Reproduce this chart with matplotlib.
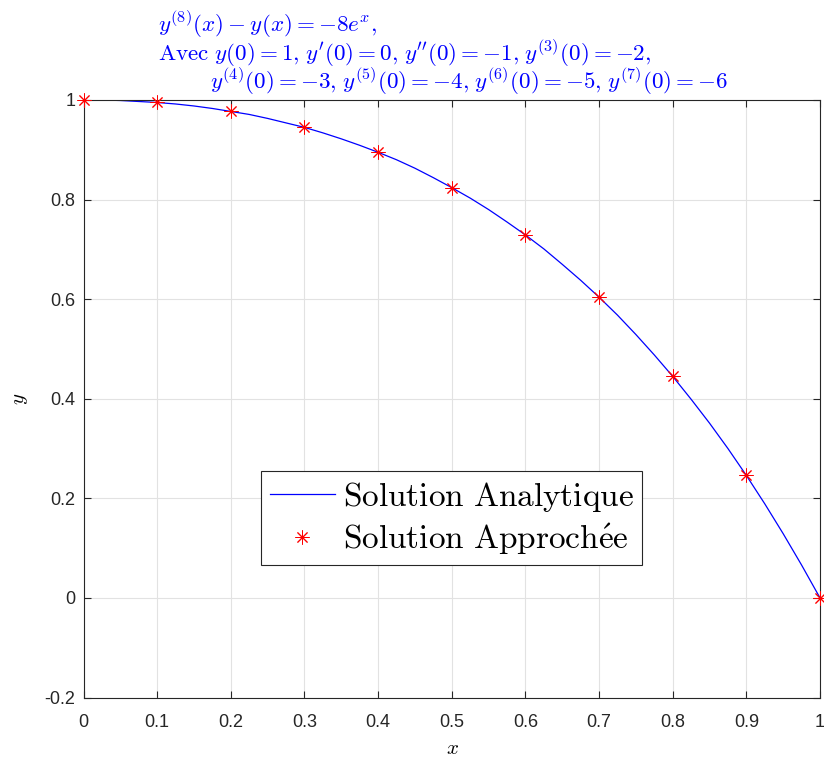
import matplotlib
matplotlib.use("Agg")
import matplotlib.pyplot as plt

plt.rcParams['mathtext.fontset'] = 'cm'
plt.rcParams['font.family'] = ['Liberation Sans', 'DejaVu Sans']

# valeurs
x_line = [0, 0.025, 0.05, 0.075, 0.1, 0.125, 0.15, 0.175, 0.2, 0.225, 0.25,
          0.275, 0.3, 0.325, 0.35, 0.375, 0.4, 0.425, 0.45, 0.475, 0.5,
          0.525, 0.55, 0.575, 0.6, 0.625, 0.65, 0.675, 0.7, 0.725, 0.75,
          0.775, 0.8, 0.825, 0.85, 0.875, 0.9, 0.925, 0.95, 0.975, 1.0]
y_line = [1.0, 1.0, 0.999, 0.997, 0.995, 0.992, 0.988, 0.983, 0.977, 0.971, 0.963,
          0.954, 0.945, 0.934, 0.922, 0.909, 0.895, 0.880, 0.863, 0.844, 0.824,
          0.803, 0.780, 0.755, 0.729, 0.701, 0.670, 0.638, 0.604, 0.568, 0.529,
          0.488, 0.445, 0.399, 0.351, 0.300, 0.246, 0.189, 0.129, 0.066, 0.0]

x_pts = [0, 0.1, 0.2, 0.3, 0.4, 0.5, 0.6, 0.7, 0.8, 0.9, 1.0]
y_pts = [1.0, 0.995, 0.977, 0.945, 0.895, 0.824, 0.729, 0.604, 0.445, 0.246, 0.0]

x_ticks = [0, 0.1, 0.2, 0.3, 0.4, 0.5, 0.6, 0.7, 0.8, 0.9, 1]
x_ticklabels = ['0', '0.1', '0.2', '0.3', '0.4', '0.5', '0.6', '0.7', '0.8', '0.9', '1']
y_ticks = [-0.2, 0, 0.2, 0.4, 0.6, 0.8, 1]
y_ticklabels = ['-0.2', '0', '0.2', '0.4', '0.6', '0.8', '1']

title_lines = [
    r'$y^{(8)}(x)-y(x)=-8e^{x},$',
    r'$\mathrm{Avec}\ y(0)=1,\hspace{0.12}y^{\prime}(0)=0,\hspace{0.12}y^{\prime\prime}(0)=-1,'
    r'\hspace{0.12}y^{(3)}(0)=-2,$',
    r'$y^{(4)}(0)=-3,\hspace{0.12}y^{(5)}(0)=-4,\hspace{0.12}y^{(6)}(0)=-5,\hspace{0.12}y^{(7)}(0)=-6$',
]

fig = plt.figure(figsize=(8.24, 7.57), dpi=100)
ax = fig.add_axes([83.5 / 824, 1 - 697.5 / 757, (820 - 83.5) / 824, (697.5 - 100) / 757])

ax.plot(x_line, y_line, color='#0000ff', lw=0.9, label=r'$\mathrm{Solution\ Analytique}$')
ax.plot(x_pts, y_pts, ls='none', marker=(8, 2, 0), ms=10, mew=0.7, color='#ff0000',
        clip_on=False, zorder=5, label=r'$\mathrm{Solution\ Approch\acute{e}e}$')

ax.set_xlim(0, 1)
ax.set_ylim(-0.2, 1)
ax.set_xticks(x_ticks)
ax.set_xticklabels(x_ticklabels)
ax.set_yticks(y_ticks)
ax.set_yticklabels(y_ticklabels)
ax.tick_params(direction='in', length=5, width=0.8, top=True, right=True,
               labelsize=13, colors='#262626')
ax.tick_params(axis='x', pad=12)
ax.tick_params(axis='y', pad=6)
for s in ax.spines.values():
    s.set_color('#262626')
    s.set_linewidth(0.8)
ax.grid(True, color='#e2e2e2', lw=0.8)
ax.set_axisbelow(True)

fig.text(20 / 824, 1 - 399 / 757, r'$y$', fontsize=15, rotation=90, ha='center', va='center')
fig.text(452 / 824, 1 - 754 / 757, r'$x$', fontsize=15, ha='center', va='baseline')

fs_title = 16.6
fig.text(158 / 824, 1 - 32 / 757, title_lines[0], fontsize=fs_title, color='#0000ff', ha='left', va='baseline')
fig.text(158 / 824, 1 - 61 / 757, title_lines[1], fontsize=fs_title, color='#0000ff', ha='left', va='baseline')
fig.text(210 / 824, 1 - 89 / 757, title_lines[2], fontsize=fs_title, color='#0000ff', ha='left', va='baseline')

leg = ax.legend(loc='center', bbox_to_anchor=(0.5, 0.3), fontsize=24, fancybox=False,
                framealpha=1, edgecolor='#262626', handlelength=1.95, borderpad=0.25,
                labelspacing=0.22, handletextpad=0.25, borderaxespad=0)
leg.get_frame().set_linewidth(0.8)

fig.savefig('out.png', dpi=100)
